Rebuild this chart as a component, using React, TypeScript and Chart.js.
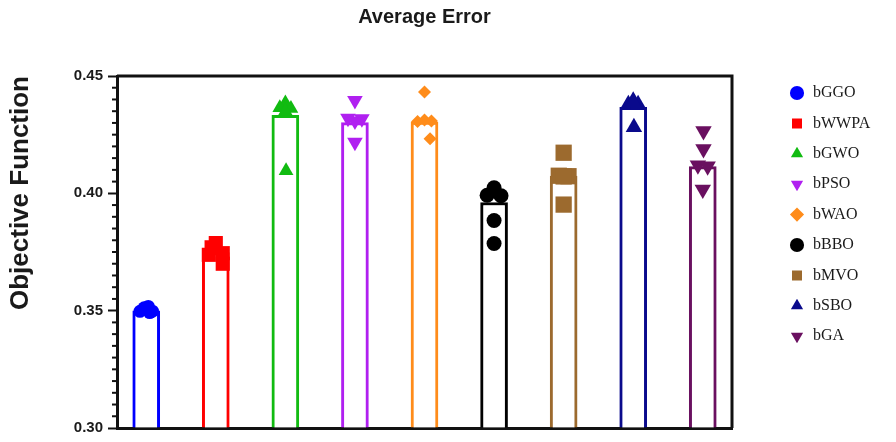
import React, { useEffect, useRef } from 'react';
import { Chart, registerables } from 'chart.js';

Chart.register(...registerables);

// ---------- data ----------
const categories = ['bGGO', 'bWWPA', 'bGWO', 'bPSO', 'bWAO', 'bBBO', 'bMVO', 'bSBO', 'bGA'];
const barValues = [0.3499, 0.3747, 0.4332, 0.4301, 0.4304, 0.3961, 0.4074, 0.4367, 0.4114];

// individual runs per algorithm (values) and small horizontal spread (category units)
const runsGGO = [0.3497, 0.3512, 0.3518, 0.3498, 0.3492];
const spreadGGO = [-0.09, -0.03, 0.03, 0.09, 0.05];
const runsWWPA = [0.3788, 0.3770, 0.3745, 0.3738, 0.3700];
const spreadWWPA = [0.0, -0.06, 0.1, -0.1, 0.1];
const runsGWO = [0.4385, 0.4365, 0.4362, 0.4350, 0.4096];
const spreadGWO = [0.0, -0.08, 0.08, 0.0, 0.01];
const runsPSO = [0.4396, 0.4320, 0.4318, 0.4308, 0.4218];
const spreadPSO = [0.0, -0.1, 0.1, 0.0, 0.0];
const runsWAO = [0.4432, 0.4306, 0.4308, 0.4312, 0.4233];
const spreadWAO = [0.0, -0.1, 0.1, 0.0, 0.08];
const runsBBO = [0.4024, 0.3992, 0.3990, 0.3884, 0.3786];
const spreadBBO = [0.0, -0.1, 0.1, 0.0, 0.0];
const runsMVO = [0.4173, 0.4075, 0.4073, 0.4072, 0.3952];
const spreadMVO = [0.0, -0.07, 0.07, 0.0, 0.0];
const runsSBO = [0.4395, 0.4380, 0.4380, 0.4388, 0.4282];
const spreadSBO = [0.0, -0.07, 0.07, 0.0, 0.01];
const runsGA = [0.4266, 0.4189, 0.4120, 0.4115, 0.4016];
const spreadGA = [0.01, 0.01, -0.07, 0.07, 0.0];

const allRuns = [runsGGO, runsWWPA, runsGWO, runsPSO, runsWAO, runsBBO, runsMVO, runsSBO, runsGA];
const allSpreads = [spreadGGO, spreadWWPA, spreadGWO, spreadPSO, spreadWAO, spreadBBO, spreadMVO, spreadSBO, spreadGA];

const yTicks = { min: 0.3, max: 0.45, step: 0.05 };
const minorPerMajor = 10;

// ---------- styles ----------
const colors = ['#0000FF', '#FF0000', '#11BB11', '#B020F0', '#FF8C1A', '#000000', '#9C6A2E', '#0A0A8C', '#6A1060'];
const pointStyles = ['circle', 'rect', 'triangle', 'triangle', 'rectRot', 'circle', 'rect', 'triangle', 'triangle'];
const pointRotations = [0, 0, 0, 180, 0, 0, 0, 0, 180];
const pointRadii = [6.5, 10, 8.5, 9, 6.5, 7.5, 11.5, 9.5, 9.5];

const frameColor = '#111111';
const textColor = '#1a1a1a';
const sans = "'Liberation Sans', Arial, Helvetica, sans-serif";
const serif = "'Liberation Serif', 'Times New Roman', serif";

const frameAndMinorTicks = {
  id: 'frameAndMinorTicks',
  afterDraw(chart: any) {
    const { ctx, chartArea } = chart;
    const y = chart.scales.y;
    ctx.save();
    ctx.strokeStyle = frameColor;
    ctx.lineWidth = 3;
    ctx.beginPath();
    ctx.moveTo(chartArea.left, chartArea.top);
    ctx.lineTo(chartArea.right, chartArea.top);
    ctx.lineTo(chartArea.right, chartArea.bottom);
    ctx.stroke();
    ctx.lineWidth = 2;
    const ticks = y.ticks;
    for (let i = 0; i < ticks.length - 1; i++) {
      const a = ticks[i].value;
      const b = ticks[i + 1].value;
      for (let k = 1; k < minorPerMajor; k++) {
        const py = y.getPixelForValue(a + ((b - a) * k) / minorPerMajor);
        ctx.beginPath();
        ctx.moveTo(chartArea.left - 5, py);
        ctx.lineTo(chartArea.left, py);
        ctx.stroke();
      }
    }
    ctx.restore();
  },
};

export default function App() {
  const ref = useRef<HTMLCanvasElement | null>(null);

  useEffect(() => {
    if (!ref.current) return;

    const scatterSets = categories.map((name, i) => ({
      type: 'scatter' as const,
      label: name,
      data: allRuns[i].map((v, j) => ({ x: i + allSpreads[i][j], y: v })),
      backgroundColor: colors[i],
      borderColor: colors[i],
      borderWidth: 0,
      pointStyle: pointStyles[i],
      pointRotation: pointRotations[i],
      pointRadius: pointRadii[i],
      order: 0,
    }));

    const barSet = {
      type: 'bar' as const,
      label: 'mean',
      data: barValues.map((v, i) => ({ x: i, y: v })),
      backgroundColor: '#ffffff',
      borderColor: colors,
      borderWidth: 3,
      barThickness: 27,
      base: yTicks.min,
      order: 1,
    };

    const chart = new Chart(ref.current, {
      type: 'bar',
      data: { datasets: [...scatterSets, barSet] as any },
      options: {
        animation: false,
        responsive: false,
        devicePixelRatio: 1,
        events: [],
        layout: { autoPadding: false, padding: { left: 0, right: 21.4, top: 0, bottom: 9.5 } },
        scales: {
          x: {
            type: 'linear',
            offset: false,
            min: -0.42,
            max: categories.length - 1 + 0.42,
            ticks: { display: false },
            grid: { display: false, drawTicks: false, offset: false },
            border: { display: true, width: 3, color: frameColor },
            afterFit: (s: any) => { s.height = 0; },
          },
          y: {
            type: 'linear',
            min: yTicks.min,
            max: yTicks.max,
            ticks: {
              stepSize: yTicks.step,
              padding: 5,
              color: textColor,
              font: { family: sans, size: 15, weight: 'bold' },
              callback: (v: any) => Number(v).toFixed(2),
            },
            grid: { display: true, drawOnChartArea: false, drawTicks: true, tickLength: 9, tickWidth: 2, tickColor: frameColor },
            border: { display: true, width: 3, color: frameColor },
            title: {
              display: true,
              text: 'Objective Function',
              align: 'end',
              color: textColor,
              font: { family: sans, size: 26, weight: 'bold' },
              padding: { top: 5.4, bottom: 0 },
            },
            afterFit: (s: any) => { s.width = 117; },
          },
          y2: {
            type: 'linear',
            position: 'right',
            display: true,
            ticks: { display: false },
            grid: { display: false, drawTicks: false },
            border: { display: false },
            afterFit: (s: any) => { s.width = 42.6; },
          },
        },
        plugins: {
          title: {
            display: true,
            text: 'Average Error',
            fullSize: false,
            color: textColor,
            font: { family: sans, size: 20, weight: 'bold' },
            padding: { top: 5, bottom: 47 },
          },
          legend: {
            display: true,
            position: 'right',
            align: 'start',
            fullSize: true,
            maxWidth: 100,
            title: { display: true, text: '', font: { size: 12 }, padding: { top: 0, bottom: 56.2 } },
            labels: {
              usePointStyle: true,
              boxHeight: 10,
              padding: 14.4,
              color: textColor,
              font: { family: serif, size: 16 },
              filter: (item: any) => item.datasetIndex < categories.length,
            },
          },
          tooltip: { enabled: false },
        },
      } as any,
      plugins: [frameAndMinorTicks],
    });

    return () => chart.destroy();
  }, []);

  return (
    <div style={{ position: 'fixed', left: 0, top: 0, width: 896, height: 442, background: '#fff' }}>
      <canvas ref={ref} width={896} height={442} style={{ display: 'block' }} />
    </div>
  );
}
